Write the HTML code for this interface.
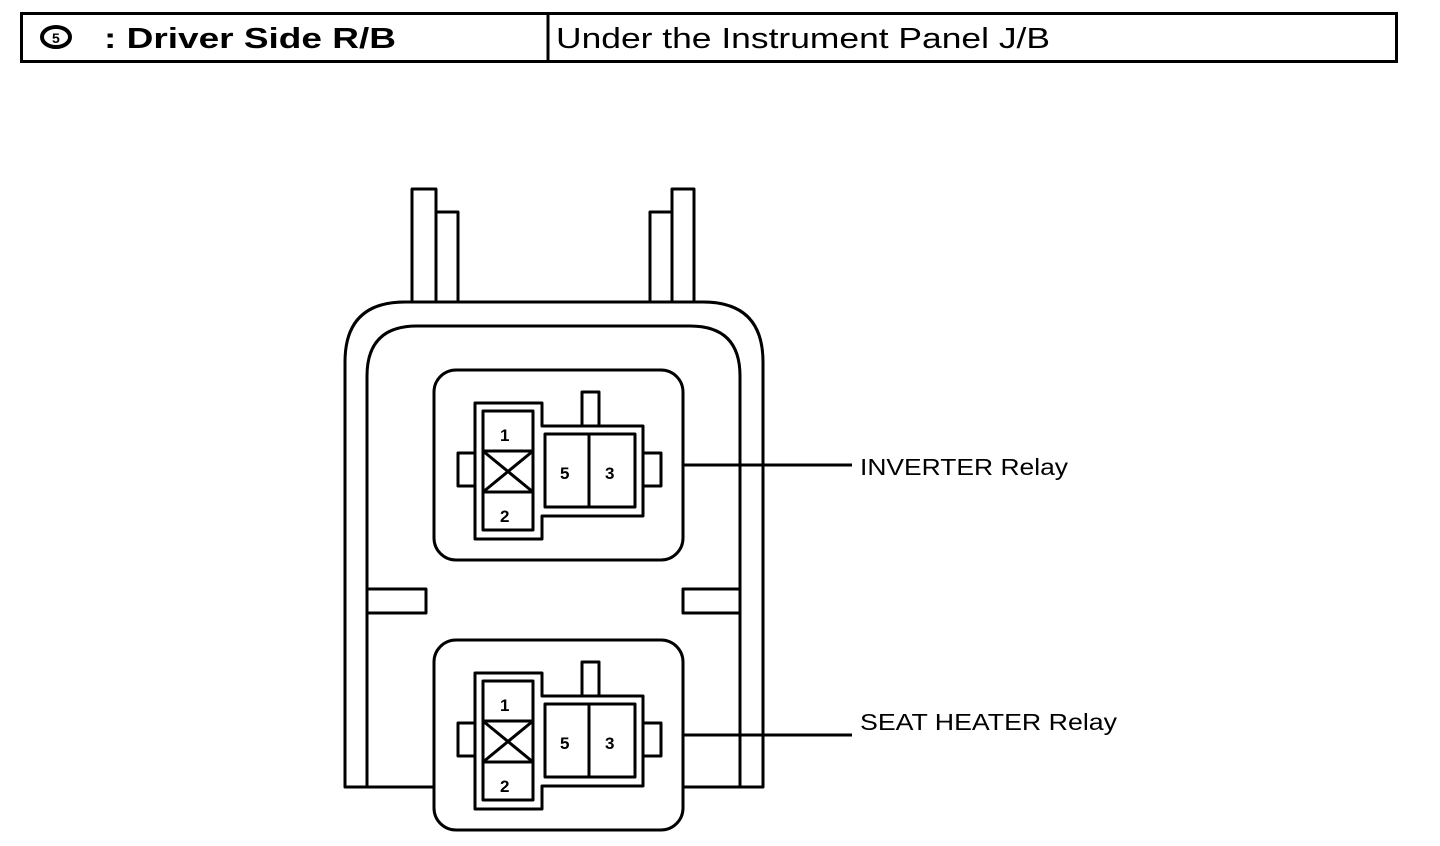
<!DOCTYPE html>
<html><head><meta charset="utf-8"><style>
html,body{margin:0;padding:0;background:#fff;}
svg{display:block;}
text{font-family:"Liberation Sans",Arial,sans-serif;fill:#000;}
</style></head><body>
<svg width="1440" height="846" viewBox="0 0 1440 846" xmlns="http://www.w3.org/2000/svg">
<g fill="none" stroke="#000" stroke-width="3">
<!-- header -->
<rect x="21.5" y="13.5" width="1375" height="48"/>
<line x1="548" y1="13" x2="548" y2="62"/>
<ellipse cx="56" cy="37" rx="14" ry="10" stroke-width="4"/>
</g>
<text x="52" y="43" font-size="14" font-weight="bold">5</text>
<text x="104" y="48" font-size="29" font-weight="bold" textLength="292" lengthAdjust="spacingAndGlyphs">: Driver Side R/B</text>
<text x="556" y="48" font-size="29" textLength="494" lengthAdjust="spacingAndGlyphs">Under the Instrument Panel J/B</text>

<g fill="none" stroke="#000" stroke-width="3" stroke-linejoin="round">
<!-- tabs -->
<path d="M412,302 V189 H436 V212 H458 V302"/>
<line x1="436" y1="212" x2="436" y2="302"/>
<path d="M694,302 V189 H672 V212 H650 V302"/>
<line x1="672" y1="212" x2="672" y2="302"/>
<!-- outer housing -->
<path d="M433,787 H345 V362 Q345,302 405,302 H703 Q763,302 763,362 V787 H684"/>
<!-- inner housing -->
<path d="M367,787 V376 Q367,326 417,326 H690 Q740,326 740,376 V787"/>
<!-- side slots -->
<path d="M367,589 H426 V613 H367"/>
<path d="M740,589 H683 V613 H740"/>
</g>

<g id="relay" fill="none" stroke="#000" stroke-width="3" stroke-linejoin="round">
<rect x="434" y="370" width="249" height="190" rx="22" fill="#fff"/>
<path d="M475,403 H542 V426 H643 V516 H542 V539 H475 Z"/>
<rect x="582" y="392" width="17" height="34" fill="#fff"/>
<rect x="483" y="411" width="50" height="119"/>
<line x1="483" y1="451" x2="533" y2="451"/>
<line x1="483" y1="492" x2="533" y2="492"/>
<line x1="483" y1="451" x2="533" y2="492"/>
<line x1="533" y1="451" x2="483" y2="492"/>
<rect x="545" y="434" width="90" height="73"/>
<line x1="589" y1="434" x2="589" y2="507"/>
<path d="M475,453 H458 V486 H475"/>
<path d="M643,453 H661 V486 H643"/>
<line x1="683" y1="465" x2="852" y2="465"/>
</g>
<g font-size="17" font-weight="bold">
<text x="500" y="441">1</text><text x="500" y="522">2</text>
<text x="560" y="479">5</text><text x="605" y="479">3</text>
</g>
<use href="#relay" transform="translate(0,270)"/>
<g font-size="17" font-weight="bold" transform="translate(0,270)">
<text x="500" y="441">1</text><text x="500" y="522">2</text>
<text x="560" y="479">5</text><text x="605" y="479">3</text>
</g>
<text x="860" y="475" font-size="23" textLength="208" lengthAdjust="spacingAndGlyphs">INVERTER Relay</text>
<text x="860" y="730" font-size="23" textLength="257" lengthAdjust="spacingAndGlyphs">SEAT HEATER Relay</text>
</svg>
</body></html>
